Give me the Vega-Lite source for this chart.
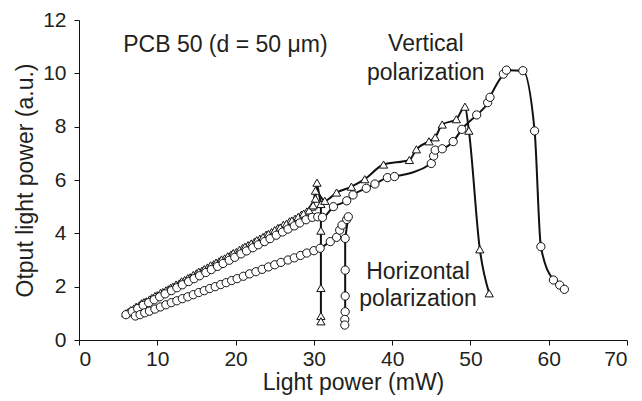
{
  "$schema": "https://vega.github.io/schema/vega-lite/v6.json",
  "width": 548,
  "height": 320,
  "autosize": {"type": "none"},
  "padding": {"left": 79, "top": 20, "right": 15, "bottom": 61},
  "background": "white",
  "config": {
    "view": {"stroke": null},
    "font": "Liberation Sans",
    "axis": {"grid": false, "domainColor": "#111", "tickColor": "#111", "labelColor": "#231f20", "titleColor": "#231f20", "labelFont": "Liberation Sans", "titleFont": "Liberation Sans", "titleFontWeight": "normal", "labelFontSize": 21, "titleFontSize": 23, "tickSize": 5, "domainWidth": 1, "tickWidth": 1}
  },
  "datasets": {
    "curves": [
      {"s":"T1","i":1,"x":6.0,"y":1.00},{"s":"T1","i":2,"x":6.6,"y":1.12},{"s":"T1","i":3,"x":7.3,"y":1.25},{"s":"T1","i":4,"x":8.0,"y":1.38},{"s":"T1","i":5,"x":8.6,"y":1.45},{"s":"T1","i":6,"x":9.3,"y":1.58},{"s":"T1","i":7,"x":10.0,"y":1.68},{"s":"T1","i":8,"x":10.7,"y":1.80},{"s":"T1","i":9,"x":11.4,"y":1.90},{"s":"T1","i":10,"x":12.0,"y":2.00},{"s":"T1","i":11,"x":12.8,"y":2.12},{"s":"T1","i":12,"x":13.5,"y":2.25},{"s":"T1","i":13,"x":14.2,"y":2.35},{"s":"T1","i":14,"x":15.0,"y":2.50},{"s":"T1","i":15,"x":15.7,"y":2.60},{"s":"T1","i":16,"x":16.4,"y":2.72},{"s":"T1","i":17,"x":17.2,"y":2.84},{"s":"T1","i":18,"x":17.9,"y":2.95},{"s":"T1","i":19,"x":18.6,"y":3.06},{"s":"T1","i":20,"x":19.4,"y":3.20},{"s":"T1","i":21,"x":20.1,"y":3.30},{"s":"T1","i":22,"x":20.9,"y":3.45},{"s":"T1","i":23,"x":21.6,"y":3.56},{"s":"T1","i":24,"x":22.4,"y":3.68},{"s":"T1","i":25,"x":23.1,"y":3.80},{"s":"T1","i":26,"x":23.9,"y":3.95},{"s":"T1","i":27,"x":24.6,"y":4.05},{"s":"T1","i":28,"x":25.4,"y":4.20},{"s":"T1","i":29,"x":26.1,"y":4.32},{"s":"T1","i":30,"x":26.9,"y":4.45},{"s":"T1","i":31,"x":27.6,"y":4.55},{"s":"T1","i":32,"x":28.4,"y":4.70},{"s":"T1","i":33,"x":29.1,"y":4.82},{"s":"T1","i":34,"x":29.7,"y":5.00},{"s":"T1","i":35,"x":30.2,"y":5.30},{"s":"T1","i":36,"x":30.4,"y":5.90},{"s":"T1","i":37,"x":30.9,"y":5.10},{"s":"T1","i":38,"x":30.9,"y":4.10},{"s":"T1","i":39,"x":30.9,"y":1.95},{"s":"T1","i":40,"x":30.9,"y":0.90},{"s":"T1","i":41,"x":30.9,"y":0.70},
      {"s":"T2","i":1,"x":6.3,"y":1.05},{"s":"T2","i":2,"x":7.0,"y":1.18},{"s":"T2","i":3,"x":7.7,"y":1.30},{"s":"T2","i":4,"x":8.3,"y":1.42},{"s":"T2","i":5,"x":9.0,"y":1.52},{"s":"T2","i":6,"x":9.7,"y":1.65},{"s":"T2","i":7,"x":10.4,"y":1.76},{"s":"T2","i":8,"x":11.1,"y":1.86},{"s":"T2","i":9,"x":11.7,"y":1.96},{"s":"T2","i":10,"x":12.4,"y":2.08},{"s":"T2","i":11,"x":13.1,"y":2.20},{"s":"T2","i":12,"x":13.9,"y":2.32},{"s":"T2","i":13,"x":14.6,"y":2.44},{"s":"T2","i":14,"x":15.3,"y":2.56},{"s":"T2","i":15,"x":16.0,"y":2.66},{"s":"T2","i":16,"x":16.8,"y":2.80},{"s":"T2","i":17,"x":17.5,"y":2.90},{"s":"T2","i":18,"x":18.2,"y":3.02},{"s":"T2","i":19,"x":19.0,"y":3.14},{"s":"T2","i":20,"x":19.7,"y":3.26},{"s":"T2","i":21,"x":20.5,"y":3.38},{"s":"T2","i":22,"x":21.2,"y":3.50},{"s":"T2","i":23,"x":22.0,"y":3.62},{"s":"T2","i":24,"x":22.7,"y":3.74},{"s":"T2","i":25,"x":23.5,"y":3.86},{"s":"T2","i":26,"x":24.2,"y":3.98},{"s":"T2","i":27,"x":25.0,"y":4.12},{"s":"T2","i":28,"x":25.7,"y":4.22},{"s":"T2","i":29,"x":26.5,"y":4.36},{"s":"T2","i":30,"x":27.2,"y":4.48},{"s":"T2","i":31,"x":28.0,"y":4.62},{"s":"T2","i":32,"x":28.7,"y":4.74},{"s":"T2","i":33,"x":29.4,"y":4.86},{"s":"T2","i":34,"x":29.9,"y":5.05},{"s":"T2","i":35,"x":30.2,"y":5.60},{"s":"T2","i":36,"x":31.4,"y":5.22},{"s":"T2","i":37,"x":32.9,"y":5.53},{"s":"T2","i":38,"x":34.8,"y":5.75},{"s":"T2","i":39,"x":36.5,"y":6.03},{"s":"T2","i":40,"x":38.9,"y":6.58},{"s":"T2","i":41,"x":42.2,"y":6.75},{"s":"T2","i":42,"x":43.1,"y":7.15},{"s":"T2","i":43,"x":44.7,"y":7.45},{"s":"T2","i":44,"x":45.5,"y":7.60},{"s":"T2","i":45,"x":46.4,"y":8.08},{"s":"T2","i":46,"x":48.2,"y":8.28},{"s":"T2","i":47,"x":49.3,"y":8.75},{"s":"T2","i":48,"x":49.8,"y":7.85},{"s":"T2","i":49,"x":51.2,"y":3.40},{"s":"T2","i":50,"x":52.4,"y":1.75},
      {"s":"C2","i":1,"x":6.0,"y":0.95},{"s":"C2","i":2,"x":6.8,"y":1.07},{"s":"C2","i":3,"x":7.5,"y":1.18},{"s":"C2","i":4,"x":8.2,"y":1.30},{"s":"C2","i":5,"x":8.9,"y":1.40},{"s":"C2","i":6,"x":9.6,"y":1.51},{"s":"C2","i":7,"x":10.3,"y":1.62},{"s":"C2","i":8,"x":11.0,"y":1.73},{"s":"C2","i":9,"x":11.8,"y":1.85},{"s":"C2","i":10,"x":12.5,"y":1.96},{"s":"C2","i":11,"x":13.2,"y":2.07},{"s":"C2","i":12,"x":14.0,"y":2.19},{"s":"C2","i":13,"x":14.7,"y":2.30},{"s":"C2","i":14,"x":15.4,"y":2.41},{"s":"C2","i":15,"x":16.2,"y":2.53},{"s":"C2","i":16,"x":16.9,"y":2.64},{"s":"C2","i":17,"x":17.7,"y":2.76},{"s":"C2","i":18,"x":18.4,"y":2.87},{"s":"C2","i":19,"x":19.2,"y":2.99},{"s":"C2","i":20,"x":19.9,"y":3.10},{"s":"C2","i":21,"x":20.7,"y":3.23},{"s":"C2","i":22,"x":21.4,"y":3.34},{"s":"C2","i":23,"x":22.2,"y":3.46},{"s":"C2","i":24,"x":22.9,"y":3.57},{"s":"C2","i":25,"x":23.7,"y":3.69},{"s":"C2","i":26,"x":24.4,"y":3.80},{"s":"C2","i":27,"x":25.2,"y":3.93},{"s":"C2","i":28,"x":26.0,"y":4.05},{"s":"C2","i":29,"x":26.7,"y":4.16},{"s":"C2","i":30,"x":27.5,"y":4.28},{"s":"C2","i":31,"x":28.2,"y":4.39},{"s":"C2","i":32,"x":29.0,"y":4.51},{"s":"C2","i":33,"x":29.8,"y":4.60},{"s":"C2","i":34,"x":30.5,"y":4.62},{"s":"C2","i":35,"x":31.1,"y":4.60},{"s":"C2","i":36,"x":32.5,"y":5.00},{"s":"C2","i":37,"x":34.2,"y":5.22},{"s":"C2","i":38,"x":35.0,"y":5.44},{"s":"C2","i":39,"x":36.7,"y":5.69},{"s":"C2","i":40,"x":37.8,"y":5.85},{"s":"C2","i":41,"x":39.4,"y":6.09},{"s":"C2","i":42,"x":40.3,"y":6.13},{"s":"C2","i":43,"x":45.0,"y":6.62},{"s":"C2","i":44,"x":45.3,"y":6.90},{"s":"C2","i":45,"x":45.5,"y":7.12},{"s":"C2","i":46,"x":46.4,"y":7.17},{"s":"C2","i":47,"x":47.8,"y":7.44},{"s":"C2","i":48,"x":48.9,"y":7.90},{"s":"C2","i":49,"x":50.8,"y":8.44},{"s":"C2","i":50,"x":52.2,"y":8.90},{"s":"C2","i":51,"x":52.5,"y":9.10},{"s":"C2","i":52,"x":54.2,"y":9.97},{"s":"C2","i":53,"x":54.6,"y":10.12},{"s":"C2","i":54,"x":56.7,"y":10.10},{"s":"C2","i":55,"x":58.2,"y":7.84},{"s":"C2","i":56,"x":59.0,"y":3.50},{"s":"C2","i":57,"x":60.6,"y":2.25},{"s":"C2","i":58,"x":61.4,"y":2.06},{"s":"C2","i":59,"x":62.0,"y":1.90},
      {"s":"C1","i":1,"x":7.2,"y":0.90},{"s":"C1","i":2,"x":7.8,"y":0.95},{"s":"C1","i":3,"x":8.4,"y":1.02},{"s":"C1","i":4,"x":9.0,"y":1.08},{"s":"C1","i":5,"x":9.7,"y":1.16},{"s":"C1","i":6,"x":10.4,"y":1.24},{"s":"C1","i":7,"x":11.1,"y":1.32},{"s":"C1","i":8,"x":11.8,"y":1.40},{"s":"C1","i":9,"x":12.5,"y":1.47},{"s":"C1","i":10,"x":13.2,"y":1.55},{"s":"C1","i":11,"x":13.9,"y":1.62},{"s":"C1","i":12,"x":14.6,"y":1.70},{"s":"C1","i":13,"x":15.3,"y":1.78},{"s":"C1","i":14,"x":16.0,"y":1.85},{"s":"C1","i":15,"x":16.7,"y":1.93},{"s":"C1","i":16,"x":17.4,"y":2.00},{"s":"C1","i":17,"x":18.1,"y":2.08},{"s":"C1","i":18,"x":18.8,"y":2.15},{"s":"C1","i":19,"x":19.5,"y":2.23},{"s":"C1","i":20,"x":20.2,"y":2.30},{"s":"C1","i":21,"x":21.0,"y":2.39},{"s":"C1","i":22,"x":21.8,"y":2.48},{"s":"C1","i":23,"x":22.6,"y":2.56},{"s":"C1","i":24,"x":23.4,"y":2.65},{"s":"C1","i":25,"x":24.2,"y":2.74},{"s":"C1","i":26,"x":25.0,"y":2.82},{"s":"C1","i":27,"x":25.8,"y":2.91},{"s":"C1","i":28,"x":26.7,"y":3.00},{"s":"C1","i":29,"x":27.5,"y":3.08},{"s":"C1","i":30,"x":28.3,"y":3.17},{"s":"C1","i":31,"x":29.1,"y":3.26},{"s":"C1","i":32,"x":30.0,"y":3.35},{"s":"C1","i":33,"x":30.8,"y":3.44},{"s":"C1","i":34,"x":32.1,"y":3.69},{"s":"C1","i":35,"x":32.9,"y":3.85},{"s":"C1","i":36,"x":33.3,"y":4.12},{"s":"C1","i":37,"x":33.6,"y":4.31},{"s":"C1","i":38,"x":34.2,"y":4.52},{"s":"C1","i":39,"x":34.4,"y":4.62},{"s":"C1","i":40,"x":34.0,"y":3.81},{"s":"C1","i":41,"x":34.0,"y":2.62},{"s":"C1","i":42,"x":34.0,"y":1.65},{"s":"C1","i":43,"x":34.0,"y":1.06},{"s":"C1","i":44,"x":33.95,"y":0.77},{"s":"C1","i":45,"x":33.95,"y":0.56}
    ],
    "labels": [
      {"t":"PCB 50 (d = 50 μm)","x":18.7,"y":11.05},
      {"t":"Vertical","x":44.3,"y":11.1},
      {"t":"polarization","x":44.3,"y":10.0},
      {"t":"Horizontal","x":43.3,"y":2.55},
      {"t":"polarization","x":43.3,"y":1.55}
    ]
  },
  "layer": [
    {
      "data": {"name": "curves"},
      "transform": [{"filter": "datum.s == 'T1' || datum.s == 'C1'"}],
      "mark": {"type": "line", "color": "#111", "strokeWidth": 2},
      "encoding": {
        "x": {"field": "x", "type": "quantitative", "scale": {"domain": [0, 70]}, "axis": {"title": "Light power (mW)", "values": [0,10,20,30,40,50,60,70], "labelPadding": 3, "titlePadding": 2}},
        "y": {"field": "y", "type": "quantitative", "scale": {"domain": [0, 12]}, "axis": {"title": "Otput light power (a.u.)", "values": [0,2,4,6,8,10,12], "labelPadding": 8, "titlePadding": 5}},
        "detail": {"field": "s"},
        "order": {"field": "i", "type": "quantitative"}
      }
    },
    {
      "data": {"name": "curves"},
      "transform": [{"filter": "datum.s == 'T2' || datum.s == 'C2'"}],
      "mark": {"type": "line", "color": "#111", "strokeWidth": 2, "interpolate": "monotone"},
      "encoding": {
        "x": {"field": "x", "type": "quantitative"},
        "y": {"field": "y", "type": "quantitative"},
        "detail": {"field": "s"},
        "order": {"field": "i", "type": "quantitative"}
      }
    },
    {
      "data": {"name": "curves"},
      "mark": {"type": "point", "filled": true, "fill": "white", "stroke": "#111", "strokeWidth": 1, "opacity": 1},
      "encoding": {
        "x": {"field": "x", "type": "quantitative"},
        "y": {"field": "y", "type": "quantitative"},
        "shape": {"field": "s", "type": "nominal", "scale": {"domain": ["T1","T2","C1","C2"], "range": ["triangle-up","triangle-up","circle","circle"]}, "legend": null},
        "size": {"value": 68}
      }
    },
    {
      "data": {"name": "labels"},
      "mark": {"type": "text", "font": "Liberation Sans", "fontSize": 23, "color": "#231f20", "align": "center", "baseline": "middle"},
      "encoding": {
        "x": {"field": "x", "type": "quantitative"},
        "y": {"field": "y", "type": "quantitative"},
        "text": {"field": "t"}
      }
    }
  ]
}
